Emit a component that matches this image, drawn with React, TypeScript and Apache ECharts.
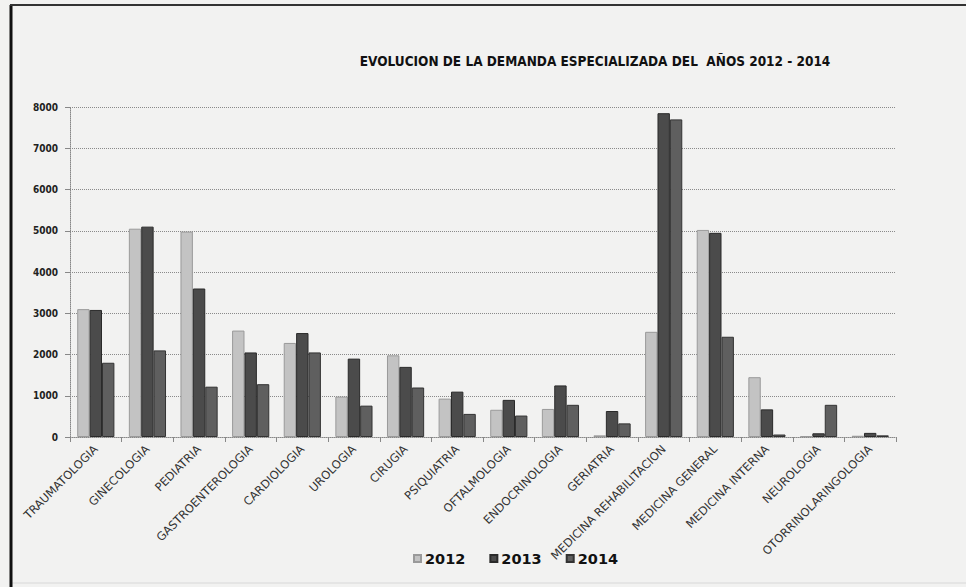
import React, { useEffect, useRef } from "react";
import * as echarts from "echarts";

const categories = [
  "TRAUMATOLOGIA",
  "GINECOLOGIA",
  "PEDIATRIA",
  "GASTROENTEROLOGIA",
  "CARDIOLOGIA",
  "UROLOGIA",
  "CIRUGIA",
  "PSIQUIATRIA",
  "OFTALMOLOGIA",
  "ENDOCRINOLOGIA",
  "GERIATRIA",
  "MEDICINA REHABILITACION",
  "MEDICINA GENERAL",
  "MEDICINA INTERNA",
  "NEUROLOGIA",
  "OTORRINOLARINGOLOGIA",
];

const values2012 = [3100, 5050, 4980, 2580, 2280, 980, 1980, 930, 660, 680, 40, 2550, 5020, 1450, 20, 30];
const values2013 = [3080, 5100, 3600, 2050, 2520, 1900, 1700, 1100, 900, 1250, 630, 7850, 4950, 670, 90, 100];
const values2014 = [1800, 2100, 1220, 1280, 2050, 760, 1200, 560, 520, 780, 330, 7700, 2430, 60, 780, 40];

const seriesNames = ["2012", "2013", "2014"];
const titleText = "EVOLUCION DE LA DEMANDA ESPECIALIZADA DEL  AÑOS 2012 - 2014";

export default function App() {
  const ref = useRef<HTMLDivElement>(null);

  useEffect(() => {
    document.body.style.margin = "0";
    if (!ref.current) return;
    const chart = echarts.init(ref.current, null, { renderer: "svg" });
    const condensed = "'DejaVu Sans Condensed', 'DejaVu Sans', sans-serif";
    const wide = "'DejaVu Sans', Verdana, sans-serif";
    const mk = (name: string, data: number[], color: string, border: string) => ({
      name,
      type: "bar",
      data,
      barGap: "0%",
      barCategoryGap: "28%",
      itemStyle: { color, borderColor: border, borderWidth: 1 },
    });
    chart.setOption({
      animation: false,
      backgroundColor: "#f2f2f1",
      title: {
        text: titleText,
        left: 590,
        top: 49,
        textAlign: "center",
        textStyle: { fontFamily: condensed, fontSize: 13.5, fontWeight: "bold", color: "#111" },
      },
      legend: {
        data: seriesNames,
        bottom: 16,
        left: 408,
        itemWidth: 7,
        itemHeight: 7,
        itemGap: 24,
        icon: "rect",
        textStyle: { fontFamily: wide, fontSize: 14.5, fontWeight: "bold", color: "#111", padding: [0, 0, 0, -1] },
      },
      grid: { left: 70, right: 70, top: 107, bottom: 150 },
      xAxis: {
        type: "category",
        data: categories,
        axisLine: { lineStyle: { color: "#888", type: "dotted" } },
        axisTick: { show: true, alignWithLabel: false, lineStyle: { color: "#888" } },
        axisLabel: {
          rotate: 45,
          interval: 0,
          fontFamily: wide,
          fontSize: 11.5,
          color: "#333",
          margin: 10,
        },
      },
      yAxis: {
        type: "value",
        min: 0,
        max: 8000,
        interval: 1000,
        axisLine: { show: true, lineStyle: { color: "#888", type: "dotted" } },
        axisTick: { show: true, lineStyle: { color: "#888" } },
        axisLabel: {
          fontFamily: condensed,
          fontSize: 10,
          fontWeight: "bold",
          color: "#222",
          margin: 12,
          formatter: (v: number) => String(v),
        },
        splitLine: { lineStyle: { color: "#8a8a8a", type: "dotted" } },
      },
      series: [
        mk("2012", values2012, "#c3c3c3", "#9a9a9a"),
        mk("2013", values2013, "#4b4b4b", "#2a2a2a"),
        mk("2014", values2014, "#5f5f5f", "#333333"),
      ],
      graphic: [
        {
          type: "line",
          shape: { x1: 10, y1: 583, x2: 966, y2: 583 },
          style: { stroke: "#d8d8d8", lineWidth: 1 },
          silent: true,
        },
        {
          type: "line",
          shape: { x1: 11, y1: 5, x2: 11, y2: 587 },
          style: { stroke: "#111", lineWidth: 3 },
          silent: true,
        },
        {
          type: "line",
          shape: { x1: 10, y1: 5, x2: 966, y2: 5 },
          style: { stroke: "#333", lineWidth: 2 },
          silent: true,
        },
      ],
    });
    return () => chart.dispose();
  }, []);

  return <div ref={ref} style={{ width: 966, height: 587 }} />;
}
